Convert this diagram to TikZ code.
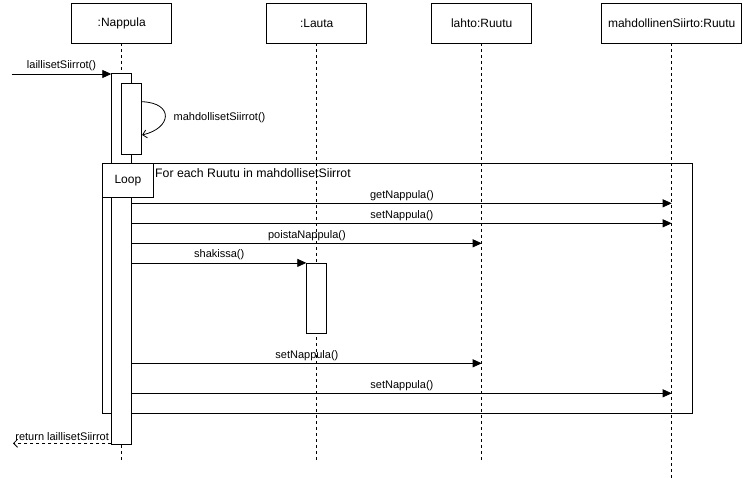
\documentclass[tikz,border=0pt]{standalone}
\usepackage{fontspec}
\setmainfont{Liberation Sans}
\usetikzlibrary{arrows.meta}
\tikzset{
  obj/.style={draw,line width=0.8pt,minimum width=100pt,minimum height=40pt,font=\fontsize{12}{14}\selectfont},
  act/.style={draw,fill=white,line width=0.8pt,minimum width=20pt,inner sep=0pt},
  life/.style={line width=0.8pt,dash pattern=on 3pt off 3pt},
  msg/.style={line width=0.8pt,-{Triangle[length=9pt,width=8pt]}},
  ret/.style={line width=0.8pt,dash pattern=on 3pt off 3pt,-{Straight Barb[length=4pt,width=8pt]}},
  lbl/.style={font=\fontsize{11}{13}\selectfont,inner sep=2.5pt}
}
\begin{document}
\begin{tikzpicture}[x=1pt,y=-1pt]
\useasboundingbox (0,0) rectangle (743,478);
\node [obj] (nap) at (121.7,23) {:Nappula};
\node [obj] (lau) at (316.7,23) {:Lauta};
\node [obj] (lah) at (481.7,23) {lahto:Ruutu};
\node [obj,minimum width=140pt] (mah) at (671.7,23) {mahdollinenSiirto:Ruutu};
\coordinate (bot) at (0,463);
\coordinate (bot2) at (0,478);
\foreach \o in {nap,lau,lah}
  \draw [life] (\o.south) -- (\o.south |- bot);
\draw [life] (mah.south) -- (mah.south |- bot2);
\node [draw,line width=0.8pt,minimum width=590pt,minimum height=250pt,anchor=north west] (loop) at (101.7,163.3) {};
\node [act,minimum height=370.7pt] (a1) at (121.7,258.7) {};
\node [act,minimum height=70.7pt] (a2) at (131.7,118.7) {};
\node [act,minimum height=70pt] (a3) at (316.7,298.3) {};
\node [draw,fill=white,line width=0.8pt,minimum width=51.6pt,minimum height=33.4pt,anchor=north west,font=\fontsize{12}{14}\selectfont] (tag) at (loop.north west) {Loop};
\node [anchor=west,inner sep=1pt,font=\fontsize{12.3}{14}\selectfont] (guard) at (154,173.3) {For each Ruutu in mahdollisetSiirrot};
\coordinate (caller) at (11.7,74);
\coordinate (callerback) at (13,443.3);
\coordinate (s1) at (0,101.7);
\coordinate (s2) at (0,135);
\coordinate (r1) at (0,203.3);
\coordinate (r2) at (0,223.3);
\coordinate (r3) at (0,243.3);
\coordinate (r5) at (0,363.3);
\coordinate (r6) at (0,393.3);
\coordinate (r7) at (0,443.3);
\draw [msg] (caller) -- node [lbl,above] {laillisetSiirrot()} (a1.west |- caller);
\draw [line width=0.8pt,-{Straight Barb[length=4pt,width=8pt]}] (a2.east |- s1) .. controls (174,103) and (172,128) .. (a2.east |- s2);
\node [lbl,anchor=west] (self) at (171,118) {mahdollisetSiirrot()};
\draw [msg] (a1.east |- r1) -- node [lbl,above] {getNappula()} (mah |- r1);
\draw [msg] (a1.east |- r2) -- node [lbl,above] {setNappula()} (mah |- r2);
\draw [msg] (a1.east |- r3) -- node [lbl,above] {poistaNappula()} (lah |- r3);
\draw [msg] (a1.east |- a3.north) -- node [lbl,above] {shakissa()} (a3.north west);
\draw [msg] (a1.east |- r5) -- node [lbl,above] {setNappula()} (lah |- r5);
\draw [msg] (a1.east |- r6) -- node [lbl,above] {setNappula()} (mah |- r6);
\draw [ret] (a1.west |- r7) -- node [lbl,above] {return laillisetSiirrot} (callerback);
\end{tikzpicture}
\end{document}
